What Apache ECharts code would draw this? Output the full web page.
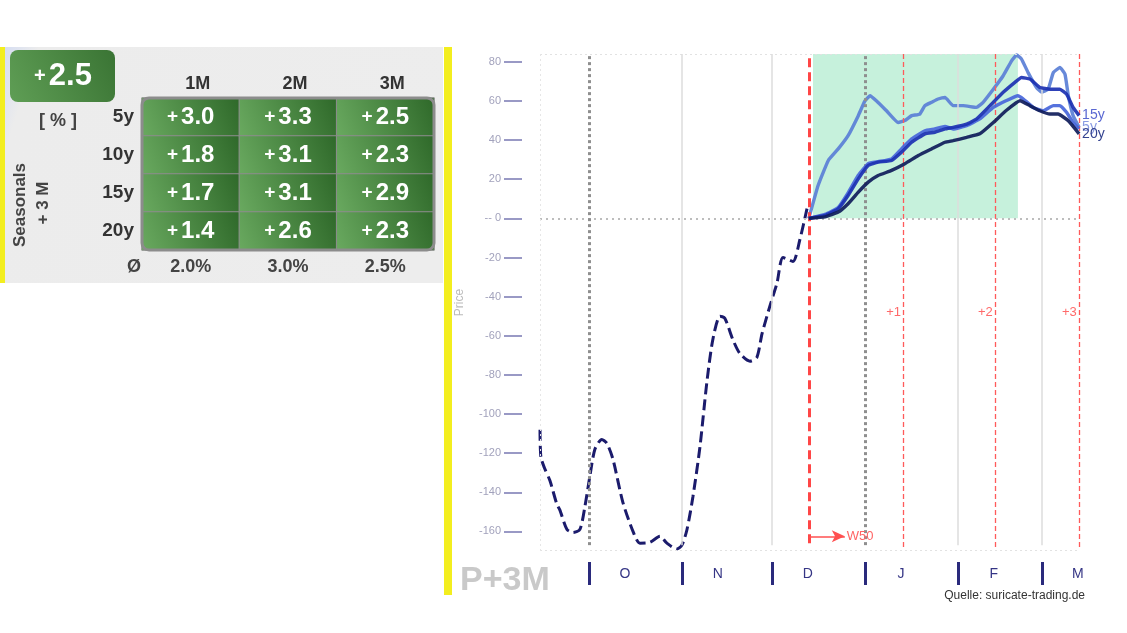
<!DOCTYPE html>
<html><head><meta charset="utf-8">
<script src="https://cdn.jsdelivr.net/npm/echarts@6/dist/echarts.min.js"></script>
<style>html,body{margin:0;padding:0;background:#fff}#c{width:1127px;height:633px}</style>
</head><body><div id="c"></div>
<script>
// ---- table data ----
const periods = ['1M', '2M', '3M'];
const horizons = ['5y', '10y', '15y', '20y'];
const ret1M = [3.0, 1.8, 1.7, 1.4];
const ret2M = [3.3, 3.1, 3.1, 2.6];
const ret3M = [2.5, 2.3, 2.9, 2.3];
const avgLabels = ['2.0%', '3.0%', '2.5%'];
const headline = 2.5;

// ---- price chart data (x = days since 1 Oct) ----
const histDays = [-16.3, -16, -14.7, -13, -10.7, -9.7, -7.3, -5.3, -3, -1.3, 0.3, 2, 4.3, 6, 8, 11.3, 14.7, 17, 20.3, 23.7, 26, 29.3, 31, 32.7, 34.7, 37, 39.3, 41.3, 43.7, 45.3, 48, 50.3, 53.7, 56, 57.7, 60.3, 62.7, 64.7, 68, 70.3, 72.7];
const histVals = [-108, -122, -128, -134, -146, -149, -159, -160.5, -159, -147, -132, -118, -113, -115, -123, -145, -160, -166, -165.6, -162.5, -166, -169, -167, -159, -142, -117, -84, -62, -50, -51, -62, -69, -73, -71, -59, -45, -33, -20, -22, -11, 5];

const s5Days = [73.3, 76.4, 79.8, 83.1, 86.4, 89.8, 92, 93.7, 95.9, 99.2, 103.1, 105.3, 107.6, 110.3, 112, 114.2, 116.4, 118.7, 121.4, 124.8, 129.2, 131.4, 134.8, 138.1, 140.9, 142.6, 144.2, 146.4, 149.2, 150.9, 153.1, 154.8, 157, 158.7, 159.8, 161.4, 163.4];
const s5Vals = [0, 16.8, 29.6, 35.5, 42.3, 52.5, 60, 62.7, 60, 55, 49, 50, 52.5, 53.3, 57.6, 59.3, 61, 61.8, 57.6, 57.6, 56.7, 59.3, 66, 72.9, 80.5, 83.5, 81.4, 74.5, 66.9, 64.4, 66, 74.5, 77.1, 73.7, 62.7, 52.5, 46.5];
const s10Days = [73.3, 78.7, 83.1, 86.4, 89.8, 93.1, 96.4, 100.9, 104.2, 107.6, 112, 115.3, 118.7, 121.4, 125.9, 130.3, 134.8, 139, 143, 144.8, 148.1, 151.4, 154.8, 157, 159.2, 161.4, 163.4];
const s10Vals = [0, 2, 5.5, 13, 22, 28, 29, 30.4, 35.5, 40.6, 44.8, 45.7, 47, 45.7, 47.4, 50.8, 56.7, 60.1, 62.7, 61, 56.7, 55, 57.6, 57.6, 54.2, 49, 45.7];
const s15Days = [73.3, 78.7, 83.1, 86.4, 89.8, 93.1, 96.4, 100.9, 104.2, 107.6, 112, 115.3, 118.7, 121.4, 125.9, 129.2, 133.7, 138.1, 142, 144.2, 147, 150.3, 153.7, 157, 159.2, 161.4, 163.4];
const s15Vals = [0, 1.5, 4.9, 11.7, 20.2, 27, 28.7, 29.6, 33.8, 38.9, 43.2, 44, 45.7, 46.5, 48.2, 50.8, 57.6, 64.4, 69.5, 72, 71.2, 66.9, 66, 66, 63.5, 56.7, 52.5];
const s20Days = [73.3, 78.7, 83.1, 86.4, 89.8, 93.1, 96.4, 100.9, 105.3, 109.8, 114.2, 118.7, 121.4, 125.9, 130.3, 134.8, 139, 143.7, 147, 150.3, 153.7, 156.4, 159.8, 163.4];
const s20Vals = [0, 0.8, 3.2, 7.5, 13.4, 18.5, 21.9, 24.5, 27.9, 32.1, 35.5, 38.9, 39.7, 41.4, 43.2, 49, 55, 60.1, 57.6, 55, 53.3, 53.3, 49.9, 43.2];

const monthStarts = [0, 31, 61, 92, 123, 151];
const monthLabelDays = [12, 43, 73, 104, 135, 163];
const monthLetters = ['O', 'N', 'D', 'J', 'F', 'M'];
const yTicks = [-160, -140, -120, -100, -80, -60, -40, -20, 0, 20, 40, 60, 80];
const nowDay = 73.3;
const nowLabel = 'W50';
const stepDays = [104.7, 135.3, 163.3];
const stepLabels = ['+1', '+2', '+3'];
const stepLabelLevel = -47.9;
const greenRange = [74.7, 143];
const solidMonthDays = [31, 61, 123, 151];
const dottedMonthDays = [0, 92];

const X_MIN = -16.3, X_MAX = 163.7, Y_MIN = -170, Y_MAX = 84;
const FONT = "'Liberation Sans', Arial, sans-serif";

const chart = echarts.init(document.getElementById('c'), null, {renderer: 'canvas'});

const heatData = [];
[ret1M, ret2M, ret3M].forEach((col, i) => col.forEach((v, j) => heatData.push([i, j, v])));
const pair = (a, b) => a.map((d, i) => [d, b[i]]);
const cellGrad = new echarts.graphic.LinearGradient(0, 1, 1, 0, [
  {offset: 0, color: '#6aaa60'}, {offset: 1, color: '#2e6829'}]);

const ml = [];
ml.push([{coord: [X_MIN, 0], lineStyle: {color: '#bdbdbd', width: 2, type: [2, 4]}}, {coord: [163.3, 0]}]);
ml.push([{coord: [X_MIN, Y_MAX], lineStyle: {color: '#e2e2e2', width: 1, type: [2, 3]}}, {coord: [X_MAX, Y_MAX]}]);
ml.push([{coord: [X_MIN, Y_MIN + 0.5], lineStyle: {color: '#e2e2e2', width: 1, type: [2, 3]}}, {coord: [X_MAX, Y_MIN + 0.5]}]);
ml.push([{coord: [X_MIN + 0.2, Y_MIN], lineStyle: {color: '#e6e6e6', width: 1, type: [2, 3]}}, {coord: [X_MIN + 0.2, Y_MAX]}]);
solidMonthDays.forEach(d => ml.push([{coord: [d, -167], lineStyle: {color: '#dcdcdc', width: 1.5, type: 'solid'}}, {coord: [d, Y_MAX]}]));
dottedMonthDays.forEach(d => ml.push([{coord: [d, -167], lineStyle: {color: '#8f8f8f', width: 3, type: [3, 3]}}, {coord: [d, Y_MAX]}]));
stepDays.forEach(d => ml.push([{coord: [d, -168], lineStyle: {color: '#ff5a5a', width: 1.3, type: [5, 3]}}, {coord: [d, Y_MAX]}]));
ml.push([{coord: [nowDay, -166], lineStyle: {color: '#ff4646', width: 3, type: [9, 5]}}, {coord: [nowDay, Y_MAX]}]);
ml.push([{coord: [nowDay, -162.5], symbol: 'none', lineStyle: {color: '#ff5050', width: 1.5, type: 'solid'},
  label: {show: true, position: 'end', formatter: nowLabel, color: '#ff6464', fontSize: 13, fontFamily: FONT, distance: 2}},
  {coord: [85.3, -162.5], symbol: 'arrow', symbolSize: [9, 13]}]);

const seasonSeries = [
  {name: '5y', days: s5Days, vals: s5Vals, color: '#5a7fd6', label: '#8a9be2', show: true},
  {name: '10y', days: s10Days, vals: s10Vals, color: '#4866da', label: '#7080dd', show: false},
  {name: '15y', days: s15Days, vals: s15Vals, color: '#1c31b2', label: '#5a68d2', show: true},
  {name: '20y', days: s20Days, vals: s20Vals, color: '#0f1c5a', label: '#34428f', show: true}
].map((s, k) => ({
  name: s.name, type: 'line', xAxisIndex: 2, yAxisIndex: 1, z: 4 + k,
  data: pair(s.days, s.vals), showSymbol: false, symbol: 'none', smooth: 0.12,
  lineStyle: {color: s.color, width: 3.4, opacity: 0.92}, silent: true,
  endLabel: {show: s.show, formatter: '{a}', color: s.label, fontSize: 14, fontFamily: FONT, distance: 3},
  emphasis: {disabled: true}
}));

const option = {
  animation: false,
  textStyle: {fontFamily: FONT},
  grid: [
    {left: 142, top: 98, width: 292, height: 152, containLabel: false},
    {left: 540, right: 47, top: 54, bottom: 82, containLabel: false}
  ],
  xAxis: [
    {gridIndex: 0, type: 'category', data: periods, position: 'top',
      axisLine: {show: false}, axisTick: {show: false},
      axisLabel: {margin: 5, color: '#333', fontSize: 18, fontWeight: 'bold', fontFamily: FONT, padding: [0, 0, 0, 14]}},
    {gridIndex: 0, type: 'category', data: periods, position: 'bottom',
      axisLine: {show: false}, axisTick: {show: false},
      axisLabel: {margin: 8, color: '#444', fontSize: 18, fontWeight: 'bold', fontFamily: FONT,
        formatter: (v, i) => avgLabels[i]}},
    {gridIndex: 1, type: 'value', min: X_MIN, max: X_MAX, offset: 11, position: 'bottom',
      axisLine: {show: false, onZero: false}, splitLine: {show: false},
      axisTick: {show: true, customValues: monthStarts, length: 23, lineStyle: {color: '#2a2a7c', width: 3}},
      axisLabel: {customValues: monthLabelDays, margin: 5, color: '#353585', fontSize: 14, fontFamily: FONT,
        formatter: v => monthLetters[monthLabelDays.indexOf(v)] || ''}}
  ],
  yAxis: [
    {gridIndex: 0, type: 'category', data: horizons, inverse: true,
      axisLine: {show: false}, axisTick: {show: false},
      axisLabel: {margin: 8, color: '#333', fontSize: 19, fontWeight: 'bold', fontFamily: FONT}},
    {gridIndex: 1, type: 'value', min: Y_MIN, max: Y_MAX, offset: 18, position: 'left',
      name: 'Price', nameLocation: 'middle', nameGap: 56,
      nameTextStyle: {color: '#bbbbbb', fontSize: 12, fontFamily: FONT},
      axisLine: {show: false, onZero: false}, splitLine: {show: false},
      axisTick: {show: true, customValues: yTicks, length: 18, lineStyle: {color: '#7878b2', width: 1.5}},
      axisLabel: {customValues: yTicks, margin: 21, color: '#a2a2bc', fontSize: 11, fontFamily: FONT,
        formatter: v => (v === 0 ? '-- 0' : String(v))}}
  ],
  series: [
    {type: 'heatmap', xAxisIndex: 0, yAxisIndex: 0, data: heatData, silent: true,
      itemStyle: {color: cellGrad, borderColor: '#8c8c8c', borderWidth: 1},
      emphasis: {disabled: true},
      label: {show: true, formatter: p => '{p|+}{n|' + p.value[2].toFixed(1) + '}',
        rich: {p: {color: '#fff', fontSize: 19, fontWeight: 'bold', fontFamily: FONT, padding: [0, 3, 0, 0]},
               n: {color: '#fff', fontSize: 24, fontWeight: 'bold', fontFamily: FONT}}}},
    {type: 'line', xAxisIndex: 2, yAxisIndex: 1, z: 1, data: [], silent: true, symbol: 'none',
      markArea: {silent: true, itemStyle: {color: '#c6f1dc'},
        data: [[{coord: [greenRange[0], 0]}, {coord: [greenRange[1], Y_MAX]}]]}},
    {type: 'line', xAxisIndex: 2, yAxisIndex: 1, z: 2, data: [], silent: true, symbol: 'none',
      markLine: {silent: true, symbol: ['none', 'none'], label: {show: false}, animation: false, data: ml}},
    {name: 'hist', type: 'line', xAxisIndex: 2, yAxisIndex: 1, z: 3, data: pair(histDays, histVals),
      showSymbol: false, symbol: 'none', smooth: 0.25, silent: true,
      lineStyle: {color: '#1b1b6c', width: 3, type: [11, 5]}},
    ...seasonSeries,
    {type: 'scatter', xAxisIndex: 2, yAxisIndex: 1, z: 9, symbolSize: 2, silent: true,
      itemStyle: {color: 'rgba(0,0,0,0)'},
      data: stepDays.map((d, i) => [d, stepLabelLevel, stepLabels[i]]),
      label: {show: true, position: 'left', distance: 1, formatter: p => p.value[2],
        color: '#ff6a6a', fontSize: 13, fontFamily: FONT, opacity: 1}}
  ],
  graphic: {elements: [
    {type: 'rect', z: -10, shape: {x: 5, y: 47, width: 438, height: 236},
      style: {fill: new echarts.graphic.LinearGradient(0, 0, 1, 0.6, [{offset: 0, color: '#d6def2'}, {offset: 0.07, color: '#ececec'}, {offset: 1, color: '#ededed'}])}},
    {type: 'rect', z: -9, shape: {x: 0, y: 47, width: 5, height: 236}, style: {fill: '#f3ee1f'}},
    {type: 'rect', z: -9, shape: {x: 444, y: 47, width: 8, height: 548}, style: {fill: '#f3ee1f'}},
    {type: 'rect', z: 10, shape: {x: 10, y: 50, width: 105, height: 52, r: 8},
      style: {fill: new echarts.graphic.LinearGradient(0, 1, 1, 0, [{offset: 0, color: '#5f9e55'}, {offset: 1, color: '#3a7434'}])}},
    {type: 'text', z: 11, x: 63, y: 76, style: {text: '{p|+}{n|' + headline.toFixed(1) + '}', align: 'center', verticalAlign: 'middle',
      rich: {p: {fill: '#fff', fontSize: 20, fontWeight: 'bold', fontFamily: FONT, padding: [0, 3, 0, 0]},
             n: {fill: '#fff', fontSize: 31, fontWeight: 'bold', fontFamily: FONT}}}},
    {type: 'text', z: 11, x: 58, y: 121, style: {text: '[ % ]', align: 'center', verticalAlign: 'middle', fill: '#444', fontSize: 18, fontWeight: 'bold', fontFamily: FONT}},
    {type: 'text', z: 11, x: 20, y: 205, rotation: Math.PI / 2, style: {text: 'Seasonals', align: 'center', verticalAlign: 'middle', fill: '#444', fontSize: 17, fontWeight: 'bold', fontFamily: FONT}},
    {type: 'text', z: 11, x: 43, y: 203, rotation: Math.PI / 2, style: {text: '+ 3 M', align: 'center', verticalAlign: 'middle', fill: '#444', fontSize: 17, fontWeight: 'bold', fontFamily: FONT}},
    {type: 'rect', z: 12, shape: {x: 142, y: 98, width: 292, height: 152, r: 7}, style: {fill: 'none', stroke: '#8c8c8c', lineWidth: 3}},
    {type: 'text', z: 11, x: 134, y: 267, style: {text: 'Ø', align: 'center', verticalAlign: 'middle', fill: '#444', fontSize: 18, fontWeight: 'bold', fontFamily: FONT}},
    {type: 'text', z: 11, x: 460, y: 581, style: {text: 'P+3M', align: 'left', verticalAlign: 'middle', fill: '#c9c9c9', fontSize: 34, fontWeight: 'bold', fontFamily: FONT}},
    {type: 'text', z: 11, x: 1085, y: 596, style: {text: 'Quelle: suricate-trading.de', align: 'right', verticalAlign: 'middle', fill: '#333', fontSize: 12, fontFamily: FONT}}
  ]}
};
chart.setOption(option);
</script>
</body></html>
